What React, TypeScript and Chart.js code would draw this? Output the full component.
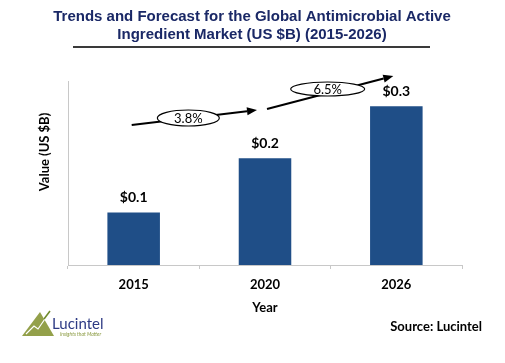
import React, { useEffect, useRef } from "react";
import { Chart, registerables } from "chart.js";

Chart.register(...registerables);

const years = ["2015", "2020", "2026"];
const values = [0.1, 0.203, 0.302];
const cagrLabels = ["3.8%", "6.5%"];
const titleLines = [
  "Trends and Forecast for the Global Antimicrobial Active",
  "Ingredient Market (US $B) (2015-2026)",
];

const SANS = "Lato, 'Open Sans', 'Noto Sans', sans-serif";
const ARIAL = "'Liberation Sans', Arial, sans-serif";

function arrow(ctx: CanvasRenderingContext2D, x1: number, y1: number, x2: number, y2: number) {
  const ang = Math.atan2(y2 - y1, x2 - x1);
  const hl = 10;
  const hw = 4;
  ctx.save();
  ctx.strokeStyle = "#000";
  ctx.fillStyle = "#000";
  ctx.lineWidth = 2;
  ctx.beginPath();
  ctx.moveTo(x1, y1);
  ctx.lineTo(x2 - hl * Math.cos(ang), y2 - hl * Math.sin(ang));
  ctx.stroke();
  ctx.beginPath();
  ctx.moveTo(x2, y2);
  ctx.lineTo(x2 - hl * Math.cos(ang) + hw * Math.sin(ang), y2 - hl * Math.sin(ang) - hw * Math.cos(ang));
  ctx.lineTo(x2 - hl * Math.cos(ang) - hw * Math.sin(ang), y2 - hl * Math.sin(ang) + hw * Math.cos(ang));
  ctx.closePath();
  ctx.fill();
  ctx.restore();
}

function ellipseLabel(ctx: CanvasRenderingContext2D, cx: number, cy: number, rx: number, ry: number, text: string) {
  ctx.save();
  ctx.beginPath();
  ctx.ellipse(cx, cy, rx, ry, 0, 0, Math.PI * 2);
  ctx.fillStyle = "#fff";
  ctx.fill();
  ctx.lineWidth = 1.2;
  ctx.strokeStyle = "#000";
  ctx.stroke();
  ctx.fillStyle = "#000";
  ctx.font = `13px ${SANS}`;
  ctx.textAlign = "center";
  ctx.textBaseline = "middle";
  ctx.fillText(text, cx, cy + 0.5);
  ctx.restore();
}

const decorPlugin = {
  id: "decor",
  afterDraw(chart: any) {
    const ctx: CanvasRenderingContext2D = chart.ctx;
    const area = chart.chartArea;
    const xs = chart.scales.x;
    const W = chart.width;

    // Title
    ctx.save();
    ctx.fillStyle = "#1a2866";
    ctx.font = `bold 15px ${ARIAL}`;
    ctx.textAlign = "center";
    ctx.textBaseline = "middle";
    ctx.fillText(titleLines[0], 252, 17);
    ctx.fillText(titleLines[1], 252, 35);
    ctx.strokeStyle = "#3a3a3a";
    ctx.lineWidth = 2;
    ctx.beginPath();
    ctx.moveTo(73, 47);
    ctx.lineTo(430, 47);
    ctx.stroke();
    ctx.restore();

    // Value labels
    const meta = chart.getDatasetMeta(0);
    ctx.save();
    ctx.fillStyle = "#000";
    ctx.font = `bold 14px ${SANS}`;
    ctx.textAlign = "center";
    ctx.textBaseline = "middle";
    meta.data.forEach((bar: any, i: number) => {
      ctx.fillText("$" + values[i].toFixed(1), bar.x, bar.y - 15);
    });
    ctx.restore();

    // Axis titles
    ctx.save();
    ctx.fillStyle = "#000";
    ctx.font = `bold 13px ${SANS}`;
    ctx.textAlign = "center";
    ctx.textBaseline = "middle";
    ctx.fillText("Year", (area.left + area.right) / 2, 308);
    ctx.translate(45, 152);
    ctx.rotate(-Math.PI / 2);
    ctx.fillText("Value (US $B)", 0, 0);
    ctx.restore();

    // CAGR arrows
    const c0 = xs.getPixelForValue(0);
    const c1 = xs.getPixelForValue(1);
    const c2 = xs.getPixelForValue(2);
    const t = area.top;
    arrow(ctx, c0 - 2, t + 44, c1 - 8, t + 29);
    arrow(ctx, c1 + 2, t + 28, c2 - 3, t - 5);
    ellipseLabel(ctx, (c0 + c1) / 2 - 11, t + 37, 31, 8, cagrLabels[0]);
    ellipseLabel(ctx, (c1 + c2) / 2 - 3, t + 8, 37, 7, cagrLabels[1]);

    // Source
    ctx.save();
    ctx.fillStyle = "#000";
    ctx.font = `bold 13px ${SANS}`;
    ctx.textAlign = "right";
    ctx.textBaseline = "middle";
    ctx.fillText("Source: Lucintel", W - 23, 327);
    ctx.restore();

    // Logo
    ctx.save();
    ctx.fillStyle = "#93a04a";
    ctx.beginPath();
    ctx.moveTo(22, 336);
    ctx.lineTo(40, 312);
    ctx.lineTo(54, 336);
    ctx.closePath();
    ctx.fill();
    ctx.strokeStyle = "#ffffff";
    ctx.lineWidth = 1.2;
    ctx.beginPath();
    ctx.moveTo(26, 334);
    ctx.lineTo(34, 326);
    ctx.lineTo(38, 329);
    ctx.lineTo(47, 316);
    ctx.stroke();
    ctx.strokeStyle = "#6f8a2a";
    ctx.lineWidth = 1.5;
    ctx.beginPath();
    ctx.moveTo(44, 319);
    ctx.lineTo(50, 311);
    ctx.stroke();
    ctx.fillStyle = "#2d3a84";
    ctx.font = `15px ${SANS}`;
    ctx.textAlign = "left";
    ctx.textBaseline = "alphabetic";
    ctx.fillText("Lucintel", 52, 329);
    ctx.fillStyle = "#8a9a40";
    ctx.font = `italic 5px ${SANS}`;
    ctx.fillText("Insights that Matter", 60, 336);
    ctx.restore();
  },
};

export default function App() {
  const ref = useRef<HTMLCanvasElement | null>(null);

  useEffect(() => {
    if (!ref.current) return;
    const chart = new Chart(ref.current, {
      type: "bar",
      data: {
        labels: years,
        datasets: [
          {
            data: values,
            backgroundColor: "#1f4e87",
            borderWidth: 0,
            barPercentage: 0.4,
            categoryPercentage: 1,
          },
        ],
      },
      options: {
        responsive: false,
        animation: false,
        layout: { padding: { left: 0, right: 43, top: 81, bottom: 0 } },
        plugins: {
          legend: { display: false },
          title: { display: false },
          tooltip: { enabled: false },
        },
        scales: {
          x: {
            grid: {
              display: true,
              drawOnChartArea: false,
              drawTicks: true,
              tickLength: 4,
              color: "#c8c8c8",
              offset: true,
            },
            border: { display: true, color: "#c8c8c8", width: 1 },
            ticks: {
              color: "#000",
              font: { family: SANS, size: 13, weight: "bold" },
              padding: 8,
            },
            afterFit: (scale: any) => {
              scale.height = 98;
            },
          },
          y: {
            min: 0,
            max: 0.35,
            grid: { display: false },
            border: { display: true, color: "#c8c8c8", width: 1 },
            ticks: { display: false },
            afterFit: (scale: any) => {
              scale.width = 68;
            },
          },
        },
      },
      plugins: [decorPlugin],
    });
    return () => chart.destroy();
  }, []);

  return (
    <div style={{ position: "absolute", left: 0, top: 0, width: 505, height: 363, background: "#fff" }}>
      <canvas ref={ref} width={505} height={363} style={{ width: 505, height: 363 }} />
    </div>
  );
}
